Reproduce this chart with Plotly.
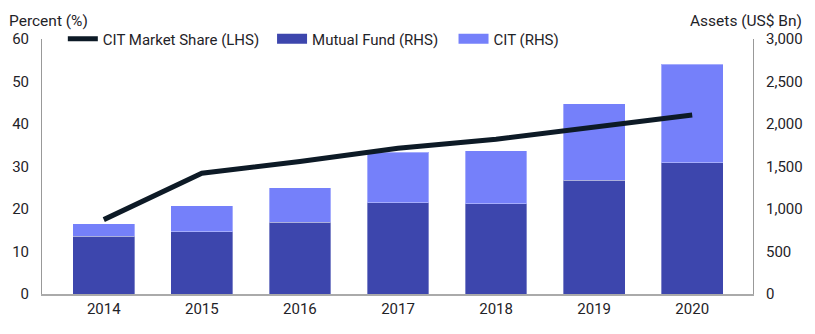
import plotly.graph_objects as go

years = ["2014", "2015", "2016", "2017", "2018", "2019", "2020"]
mutual_fund = [680, 732, 842, 1074, 1059, 1338, 1547]
cit_total = [826, 1039, 1251, 1668, 1688, 2240, 2704]
cit = [t - m for t, m in zip(cit_total, mutual_fund)]
cit_share = [17.5, 28.4, 31.2, 34.3, 36.4, 39.3, 42.1]

left_ticks = [0, 10, 20, 30, 40, 50, 60]
right_ticks = [0, 500, 1000, 1500, 2000, 2500, 3000]

FONT = "Roboto"
TXT = "#1f2328"
FS = 15
MF_COLOR = "#3d46ad"
CIT_COLOR = "#7580fa"

fig = go.Figure()
fig.add_trace(go.Bar(
    x=years, y=mutual_fund, name="Mutual Fund (RHS)", yaxis="y", showlegend=False,
    marker=dict(color=MF_COLOR, line=dict(color="rgba(255,255,255,0.35)", width=1)),
    width=0.63))
fig.add_trace(go.Bar(
    x=years, y=cit, name="CIT (RHS)", yaxis="y", showlegend=False,
    marker=dict(color=CIT_COLOR, line=dict(color="rgba(255,255,255,0.35)", width=1)),
    width=0.63))
fig.add_trace(go.Scatter(
    x=years, y=cit_share, name="CIT Market Share (LHS)", mode="lines",
    line=dict(color="#0d1a26", width=5), yaxis="y2", legend="legend"))
# legend swatches for the bar series (wide rectangles like the reference)
fig.add_trace(go.Scatter(x=[None], y=[None], name="Mutual Fund (RHS)", mode="lines",
                         line=dict(color=MF_COLOR, width=14), yaxis="y2", legend="legend2"))
fig.add_trace(go.Scatter(x=[None], y=[None], name="CIT (RHS)", mode="lines",
                         line=dict(color=CIT_COLOR, width=14), yaxis="y2", legend="legend3"))

def leg(xpx):
    return dict(orientation="h", x=(xpx - 38) / 717, y=1.0, xanchor="left",
                yanchor="middle", font=dict(size=FS, color=TXT),
                bgcolor="rgba(0,0,0,0)", itemwidth=30)

fig.update_layout(
    width=815, height=334,
    margin=dict(l=38, r=60, t=39, b=40),
    paper_bgcolor="white", plot_bgcolor="white",
    barmode="stack",
    font=dict(family=FONT, size=FS, color=TXT),
    showlegend=True,
    legend=leg(59), legend2=leg(270), legend3=leg(453),
    xaxis=dict(type="category", range=[-0.63, 6.62], showgrid=False,
               showline=True, linecolor="#aaaaaa", linewidth=2,
               ticks="", tickfont=dict(size=FS, color=TXT), zeroline=False),
    yaxis=dict(range=[0, 3000], tickvals=right_ticks, side="right",
               showgrid=False, showline=True, linecolor="#999999", linewidth=1,
               ticks="", tickformat=",", ticklabelstandoff=9, zeroline=False,
               tickfont=dict(size=FS, color=TXT)),
    yaxis2=dict(range=[0, 60], tickvals=left_ticks, overlaying="y", side="left",
                showgrid=False, showline=True, linecolor="#999999", linewidth=1,
                ticks="", ticklabelstandoff=9, zeroline=False,
                tickfont=dict(size=FS, color=TXT)),
    annotations=[
        dict(text="Percent (%)", xref="paper", yref="paper", x=-35/717, y=1.0,
             xanchor="left", yanchor="bottom", yshift=7, showarrow=False,
             font=dict(size=15.5, color=TXT)),
        dict(text="Assets (US$ Bn)", xref="paper", yref="paper", x=1 + 51/717, y=1.0,
             xanchor="right", yanchor="bottom", yshift=7, showarrow=False,
             font=dict(size=15.5, color=TXT)),
    ],
)

fig.write_html("out.html")
